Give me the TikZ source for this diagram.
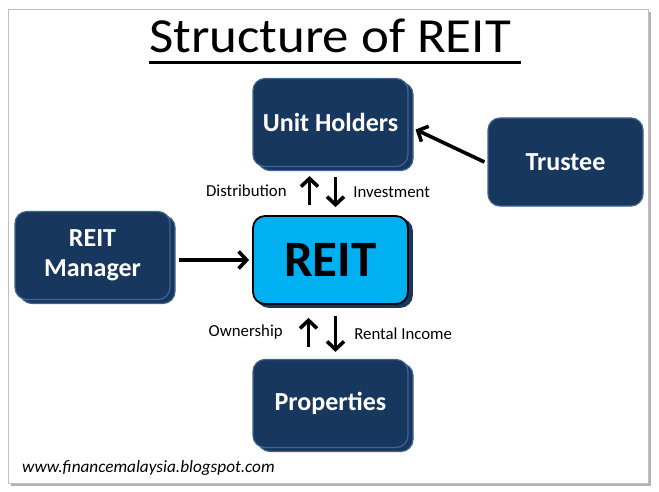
\documentclass[tikz,border=0pt]{standalone}
\usepackage{fontspec}
\setmainfont{Carlito}
\usetikzlibrary{arrows.meta,shadows,calc}
\definecolor{navy}{RGB}{23,55,94}
\definecolor{navyline}{RGB}{64,100,145}
\definecolor{reitblue}{RGB}{0,176,240}
\tikzstyle{bx} = [rectangle, draw=navyline, line width=1.2pt, fill=navy,
    text=white, font=\fontsize{26}{30}\selectfont\bfseries, align=center,
    minimum width=155pt, minimum height=88pt, rounded corners=12pt]
\tikzstyle{stack} = [copy shadow={shadow xshift=5pt, shadow yshift=-4pt,
    fill=navy, draw=navyline, line width=1.2pt}]
\tikzstyle{arr} = [-{Straight Barb[length=8pt,width=17pt]}, line width=3.6pt]
\tikzstyle{lbl} = [inner sep=0pt, font=\fontsize{16.8}{19}\selectfont]

\begin{document}
\begin{tikzpicture}[node distance=140pt]
  \useasboundingbox (0,0) rectangle (659pt,-492pt);
  \draw[gray!50, fill=white, drop shadow={shadow xshift=3pt,shadow yshift=-3pt,opacity=.6}]
    (8pt,-9pt) rectangle (648pt,-483pt);

  \node[anchor=base,inner sep=0pt,xscale=1.08,font=\fontsize{49}{58}\selectfont] (title) at (330pt,-53pt) {Structure of REIT};
  \node[bx,stack] (uh) at (330.5pt,-122.5pt) {Unit Holders};
  \node[bx,fill=reitblue,draw=black,line width=1.8pt,text=black,
    font=\fontsize{51}{58}\selectfont\bfseries,
    copy shadow={shadow xshift=4pt,shadow yshift=-3pt,fill=navy,draw=navy}] (reit) [below of=uh,yshift=2.5pt] {REIT};
  \node[bx,stack] (prop) [below of=reit,yshift=-3.5pt] {Properties};
  \node[bx,stack] (mgr) [left of=reit,xshift=-98pt,yshift=4.5pt] {REIT\\Manager};
  \node[bx] (tr) [right of=uh,xshift=95pt,yshift=-39.5pt] {Trustee};
  \node[anchor=base west,inner sep=0pt,font=\fontsize{17.2}{20}\selectfont\itshape] (url) at (22pt,-472pt) {www.financemalaysia.blogspot.com};

  \draw[line width=3pt] ([yshift=-10pt]title.base west) -- ([xshift=10pt,yshift=-10pt]title.base east);

  \path[arr] ($(mgr.east |- reit.west)+(8pt,0)$) edge ($(reit.west)+(-3pt,0)$);
  \path[arr] ([xshift=-3pt]tr.west) edge ([xshift=7pt,yshift=-7pt]uh.east);
  \path[arr] ([xshift=-21pt,yshift=10pt]reit.north) edge node[lbl,left=21pt] {Distribution} ([xshift=-21pt,yshift=-9pt]uh.south);
  \path[arr] ([xshift=5pt,yshift=-10pt]uh.south) edge node[lbl,right=16pt] {Investment} ([xshift=5pt,yshift=8pt]reit.north);
  \path[arr] ([xshift=-22pt,yshift=12pt]prop.north) edge node[lbl,left=24pt] {Ownership} ([xshift=-22pt,yshift=-13pt]reit.south);
  \path[arr] ([xshift=5pt,yshift=-11pt]reit.south) edge node[lbl,right=17pt] {Rental Income} ([xshift=5pt,yshift=7pt]prop.north);
\end{tikzpicture}
\end{document}
